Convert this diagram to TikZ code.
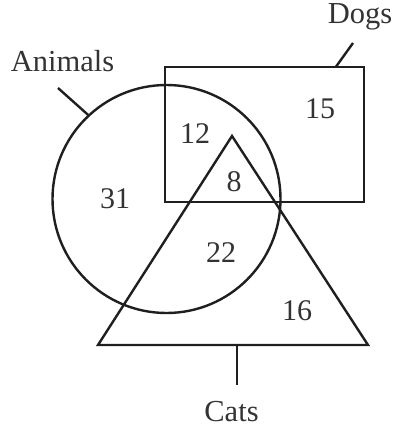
\documentclass[tikz,border=0pt]{standalone}
\usepackage{fontspec}
\setmainfont{Liberation Serif}
\begin{document}
\begin{tikzpicture}[x=1pt,y=-1pt,
  shapeline/.style={draw=black!88, line width=2.4pt},
  lbl/.style={text=black!80, font=\fontsize{30.5}{36}\selectfont, inner sep=0pt, anchor=base},
  num/.style={text=black!80, font=\fontsize{30}{36}\selectfont, inner sep=0pt, anchor=base}]
\useasboundingbox (0,0) rectangle (396,433);
% shapes
\node[shapeline, circle, minimum size=228pt, inner sep=0pt] (animals) at (166.5,199) {};
\node[shapeline, rectangle, minimum width=199pt, minimum height=135pt, inner sep=0pt] (dogs) at (264.2,134.3) {};
\coordinate (tA) at (232,136);
\coordinate (tL) at (98,345);
\coordinate (tR) at (368,345);
\draw[shapeline, line join=miter] (tA) -- (tL) -- (tR) -- cycle;
% labels
\node[lbl] (animalsL) at (62.5,72) {Animals};
\node[lbl] (dogsL) at (360,24) {Dogs};
\node[lbl] (catsL) at (231.5,421) {Cats};
\coordinate (aEnd) at (58,88);
\coordinate (dEnd) at (353,43);
\coordinate (dStart) at (336,66.7);
\coordinate (cEnd) at (237,385);
\coordinate (cStart) at (237,345);
\draw[shapeline] (animals.133) -- (aEnd);
\draw[shapeline] (dStart) -- (dEnd);
\draw[shapeline] (cStart) -- (cEnd);
% numbers
\node[num] (n12) at (195,143) {12};
\node[num] (n15) at (320,118) {15};
\node[num] (n31) at (115,208) {31};
\node[num] (n8) at (234,191) {8};
\node[num] (n22) at (221,262) {22};
\node[num] (n16) at (297,320) {16};
\end{tikzpicture}
\end{document}
